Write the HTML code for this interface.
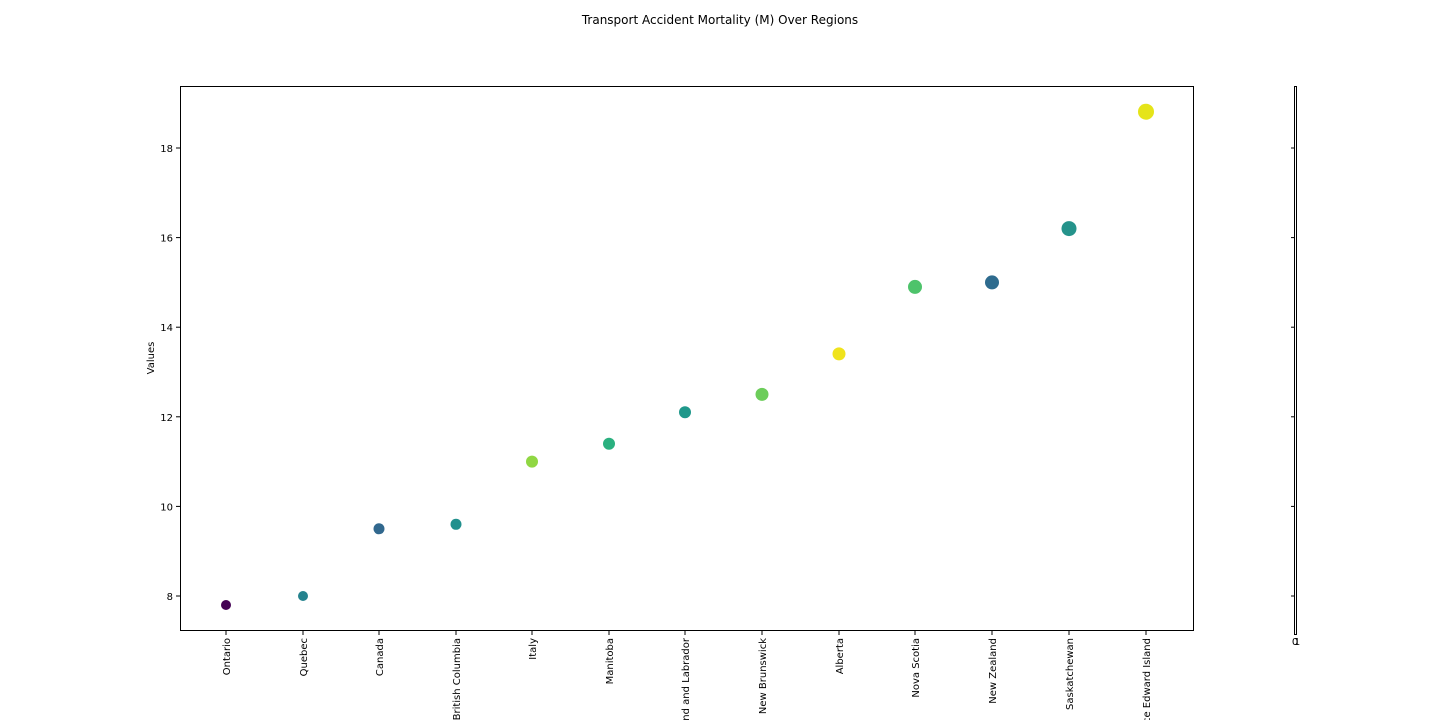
<!DOCTYPE html>
<html><head><meta charset="utf-8"><style>html,body{margin:0;background:#fff;width:1440px;height:720px;overflow:hidden}svg{display:block}</style></head><body>
<svg width="1440" height="720" xmlns="http://www.w3.org/2000/svg" font-family="DejaVu Sans, Liberation Sans, sans-serif" font-size="10" fill="#000">
<rect width="1440" height="720" fill="#fff"/>
<text x="720" y="24" text-anchor="middle" font-size="12">Transport Accident Mortality (M) Over Regions</text>
<rect x="180.5" y="86.5" width="1013" height="544" fill="none" stroke="#000" stroke-width="1"/>
<g stroke="#000" stroke-width="1">
<line x1="176" x2="180" y1="596" y2="596"/><line x1="176" x2="180" y1="506.4" y2="506.4"/><line x1="176" x2="180" y1="416.8" y2="416.8"/><line x1="176" x2="180" y1="327.2" y2="327.2"/><line x1="176" x2="180" y1="237.6" y2="237.6"/><line x1="176" x2="180" y1="148" y2="148"/>
</g>
<g text-anchor="end">
<text x="173" y="600">8</text><text x="173" y="510.4">10</text><text x="173" y="420.8">12</text><text x="173" y="331.2">14</text><text x="173" y="241.6">16</text><text x="173" y="152">18</text>
</g>
<text transform="translate(154,358) rotate(-90)" text-anchor="middle">Values</text>
<g stroke="#000">
<line x1="226" x2="226" y1="631" y2="635"/><line x1="303" x2="303" y1="631" y2="635"/><line x1="379" x2="379" y1="631" y2="635"/><line x1="456" x2="456" y1="631" y2="635"/><line x1="532" x2="532" y1="631" y2="635"/><line x1="609" x2="609" y1="631" y2="635"/><line x1="685" x2="685" y1="631" y2="635"/><line x1="762" x2="762" y1="631" y2="635"/><line x1="839" x2="839" y1="631" y2="635"/><line x1="915" x2="915" y1="631" y2="635"/><line x1="992" x2="992" y1="631" y2="635"/><line x1="1069" x2="1069" y1="631" y2="635"/><line x1="1146" x2="1146" y1="631" y2="635"/>
</g>
<g text-anchor="end">
<text transform="translate(230,638) rotate(-90)">Ontario</text>
<text transform="translate(307,638) rotate(-90)">Quebec</text>
<text transform="translate(383,638) rotate(-90)">Canada</text>
<text transform="translate(460,638) rotate(-90)">British Columbia</text>
<text transform="translate(536,638) rotate(-90)">Italy</text>
<text transform="translate(613,638) rotate(-90)">Manitoba</text>
<text transform="translate(689,638) rotate(-90)">Newfoundland and Labrador</text>
<text transform="translate(766,638) rotate(-90)">New Brunswick</text>
<text transform="translate(843,638) rotate(-90)">Alberta</text>
<text transform="translate(919,638) rotate(-90)">Nova Scotia</text>
<text transform="translate(996,638) rotate(-90)">New Zealand</text>
<text transform="translate(1073,638) rotate(-90)">Saskatchewan</text>
<text transform="translate(1150,638) rotate(-90)">Prince Edward Island</text>
</g>
<circle cx="226" cy="605" r="5" fill="#440154"/>
<circle cx="303" cy="596" r="5" fill="#25838e"/>
<circle cx="379" cy="528.8" r="5.5" fill="#31688e"/>
<circle cx="456" cy="524.3" r="5.5" fill="#21908d"/>
<circle cx="532" cy="461.6" r="6" fill="#90d743"/>
<circle cx="609" cy="443.7" r="6" fill="#2ab07f"/>
<circle cx="685" cy="412.3" r="6" fill="#1f988b"/>
<circle cx="762" cy="394.4" r="6.5" fill="#6ccd5a"/>
<circle cx="839" cy="353.9" r="6.5" fill="#f0e31c"/>
<circle cx="915" cy="286.9" r="7" fill="#4ec36b"/>
<circle cx="992" cy="282.4" r="7" fill="#2e6b8e"/>
<circle cx="1069" cy="228.6" r="7.5" fill="#25938b"/>
<circle cx="1146" cy="111.7" r="8" fill="#e5e419"/>
<rect x="1294.5" y="86.5" width="2" height="548" fill="none" stroke="#000" stroke-width="1"/>
<g stroke="#000">
<line x1="1291" x2="1294" y1="148" y2="148"/><line x1="1291" x2="1294" y1="237.6" y2="237.6"/><line x1="1291" x2="1294" y1="327.2" y2="327.2"/><line x1="1291" x2="1294" y1="416.8" y2="416.8"/><line x1="1291" x2="1294" y1="506.4" y2="506.4"/><line x1="1291" x2="1294" y1="596" y2="596"/>
</g>
<text x="1295" y="645" text-anchor="middle">0</text><text x="1297" y="645" text-anchor="middle">1</text>
</svg>
</body></html>
